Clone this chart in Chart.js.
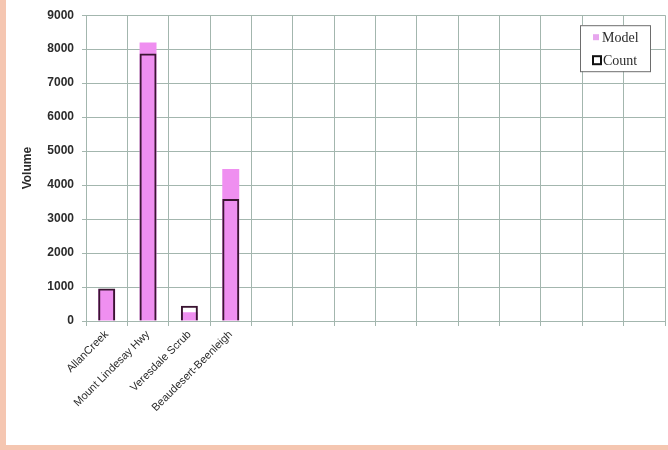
<!DOCTYPE html>
<html>
<head>
<meta charset="utf-8">
<script src="https://cdn.jsdelivr.net/npm/chart.js@4/dist/chart.umd.min.js"></script>
<style>
    html, body { margin: 0; padding: 0; background: #fff; }
    .frame {
        width: 662px;
        height: 445px;
        border-left: 6px solid #f5c6b1;
        border-bottom: 5px solid #f5c6b1;
        background: #fff;
    }
</style>
</head>
<body>
<div class="frame"><canvas id="volumeChart" width="662" height="445"></canvas></div>
<script>
// Survey sites (remaining columns are empty in the original sheet)
const sites = ['AllanCreek', 'Mount Lindesay Hwy', 'Veresdale Scrub', 'Beaudesert-Beenleigh',
    '', '', '', '', '', '', '', '', '', ''];
const modelVolumes = [940, 8200, 260, 4470, null, null, null, null, null, null, null, null, null, null];
const countVolumes = [960, 7870, 450, 3590, null, null, null, null, null, null, null, null, null, null];
const yTicks = { min: 0, max: 9000, step: 1000 };

const colors = {
    model: '#ef8ff0',
    countBorder: '#3b1432',
    grid: '#a3b6ae',
    text: '#2b2b2b'
};

// boxed legend drawn inside the plot, top right
const boxLegend = {
    id: 'boxLegend',
    afterDraw(chart) {
        const ctx = chart.ctx;
        const area = chart.chartArea;
        const w = 70, h = 46;
        const x = area.right - 15 - w;
        const y = area.top + 10;
        ctx.save();
        ctx.fillStyle = '#fff';
        ctx.fillRect(x, y, w, h);
        ctx.strokeStyle = '#6d6d6d';
        ctx.lineWidth = 1;
        ctx.strokeRect(x + 0.5, y + 0.5, w, h);

        ctx.font = '14px "Liberation Serif", serif';
        ctx.textBaseline = 'middle';
        // Model
        ctx.fillStyle = '#e7a6ee';
        ctx.fillRect(x + 13, y + 9, 6, 6);
        ctx.fillStyle = colors.text;
        ctx.fillText('Model', x + 22, y + 13);
        // Count
        ctx.strokeStyle = '#111';
        ctx.lineWidth = 2;
        ctx.strokeRect(x + 13, y + 31, 8, 8);
        ctx.fillText('Count', x + 23, y + 36);
        ctx.restore();
    }
};

const ctx = document.getElementById('volumeChart').getContext('2d');
new Chart(ctx, {
    type: 'bar',
    data: {
        labels: sites,
        datasets: [
            {
                label: 'Model',
                data: modelVolumes,
                backgroundColor: colors.model,
                borderWidth: 0,
                grouped: false,
                order: 1
            },
            {
                label: 'Count',
                data: countVolumes,
                backgroundColor: 'rgba(0,0,0,0)',
                borderColor: colors.countBorder,
                borderWidth: 2,
                grouped: false,
                order: 0
            }
        ]
    },
    options: {
        responsive: false,
        animation: false,
        layout: { padding: { top: 15, right: 3, left: 0, bottom: 0 } },
        datasets: {
            bar: { barPercentage: 0.41, categoryPercentage: 1 }
        },
        plugins: {
            legend: { display: false },
            tooltip: { enabled: false }
        },
        scales: {
            x: {
                grid: { color: colors.grid, lineWidth: 1, tickLength: 5 },
                border: { color: colors.grid },
                ticks: {
                    autoSkip: false,
                    maxRotation: 45,
                    minRotation: 45,
                    color: colors.text,
                    padding: 2,
                    font: { family: '"Liberation Sans", Arial, sans-serif', size: 11 }
                },
                afterFit(scale) { scale.height = 124; }
            },
            y: {
                min: yTicks.min,
                max: yTicks.max,
                ticks: {
                    stepSize: yTicks.step,
                    color: colors.text,
                    padding: 8,
                    callback: (value) => String(value),
                    font: { family: '"Liberation Sans", Arial, sans-serif', size: 12, weight: 'bold' }
                },
                grid: { color: colors.grid, lineWidth: 1, tickLength: 4 },
                border: { color: colors.grid },
                title: {
                    display: true,
                    text: 'Volume',
                    color: colors.text,
                    padding: { top: 14, bottom: 0 },
                    font: { family: '"Liberation Sans", Arial, sans-serif', size: 12, weight: 'bold' }
                },
                afterFit(scale) { scale.width = 80; }
            }
        }
    },
    plugins: [boxLegend]
});
</script>
</body>
</html>
